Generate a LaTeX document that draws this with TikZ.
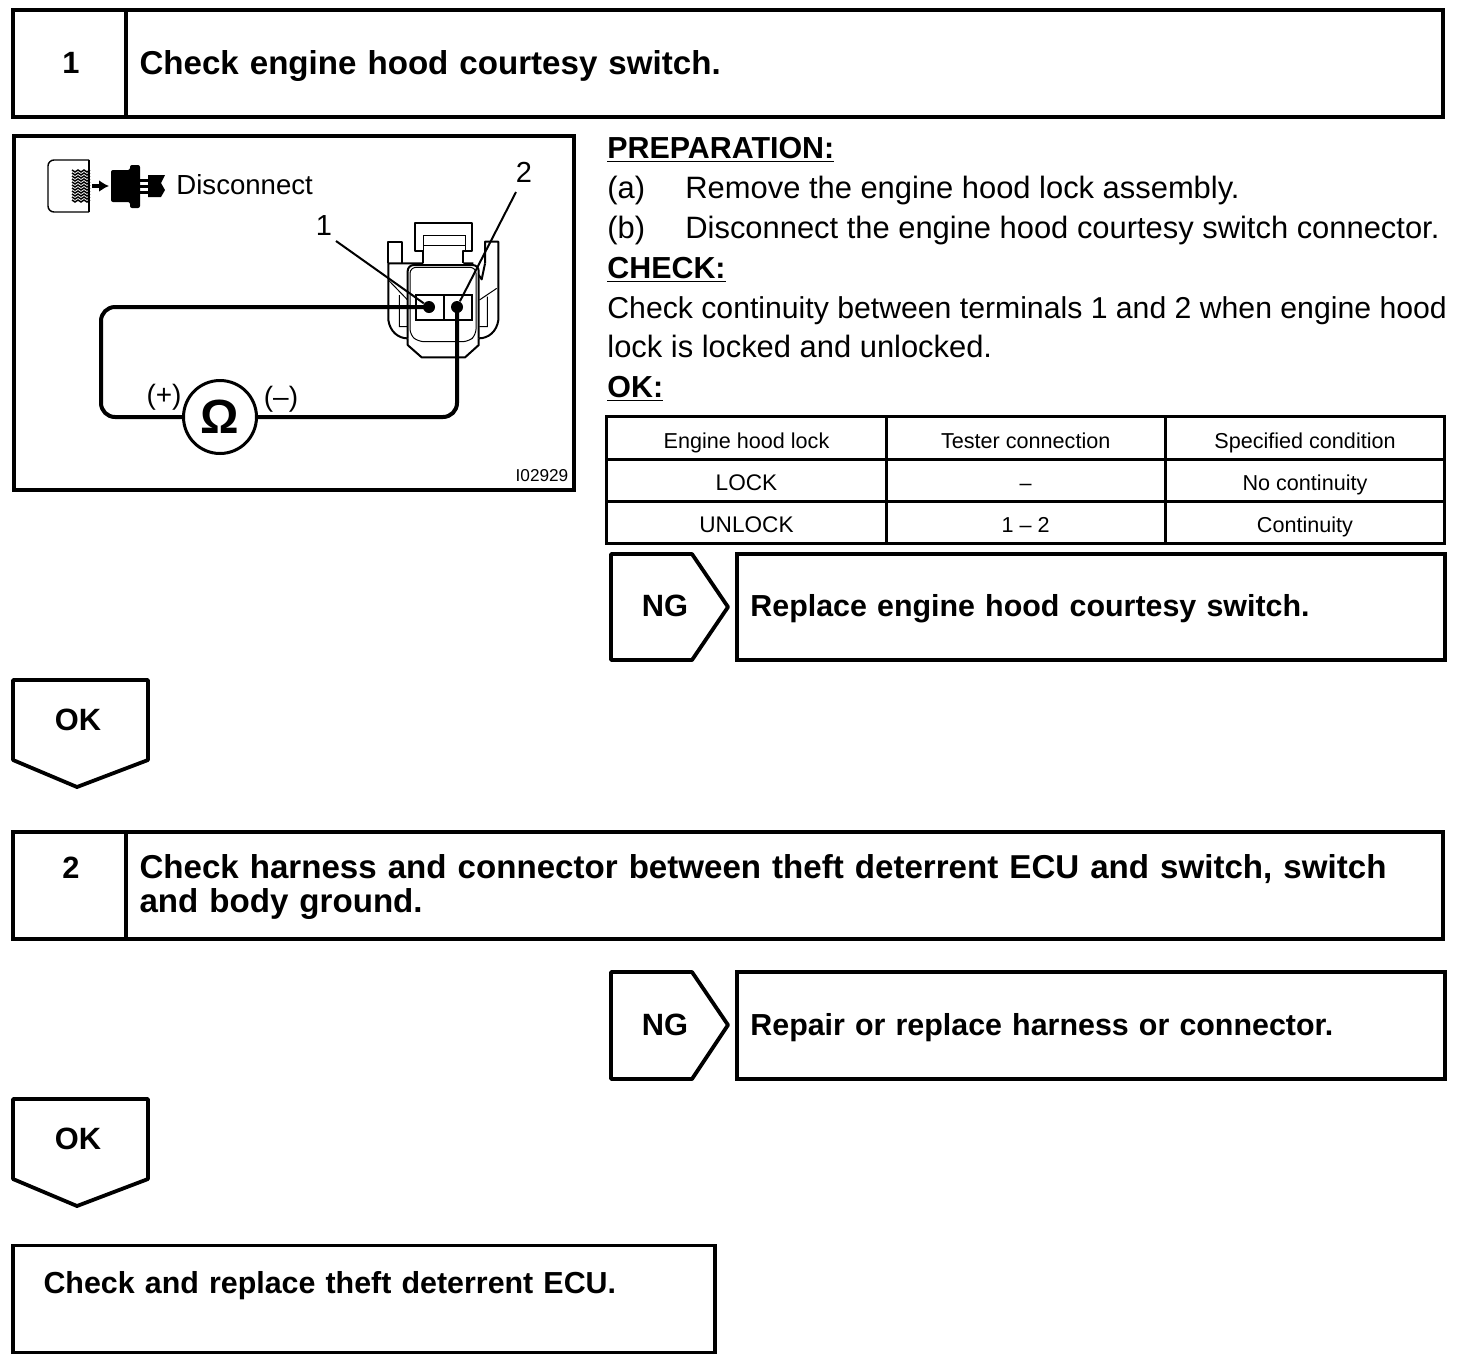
\documentclass[tikz,border=0pt]{standalone}
\usepackage{fontspec}
\setmainfont{Liberation Sans}
\newfontfamily\headfam[WordSpace=1.3]{Liberation Sans}
\usetikzlibrary{arrows.meta,positioning}

\begin{document}
\begin{tikzpicture}[
  x=0.5pt, y=-0.5pt,
  >=Latex,
  heavy/.style={line width=1.9pt, line join=round},
  wire/.style={line width=2pt, rounded corners=7pt},
  thinln/.style={line width=0.5pt},
  midln/.style={line width=1pt, line join=round},
  frame/.style={draw, line width=1.9pt, inner sep=0pt, minimum height=#1},
  headtxt/.style={font=\headfam\fontsize{16.55}{17}\selectfont\bfseries, align=left, text depth=1pt},
  fixtxt/.style={font=\headfam\fontsize{15.2}{17}\selectfont\bfseries, align=left, text depth=1.5pt},
  tagtxt/.style={inner sep=0pt, font=\fontsize{15.4}{17}\selectfont\bfseries},
  body/.style={anchor=base west, inner sep=0pt, font=\fontsize{15.45}{18}\selectfont},
  bodyb/.style={body, font=\fontsize{15.2}{18}\selectfont\bfseries},
  cell/.style={draw, line width=1.5pt, inner sep=0pt, minimum width=139.6pt, minimum height=21pt, text height=10.5pt, text depth=0pt, font=\fontsize{#1}{13}\selectfont},
  cell/.default=10.8,
  dot/.style={circle, fill=black, inner sep=0pt, minimum size=6pt}
]
\useasboundingbox (0,0) rectangle (1472,1366);

% step 1
\node[frame=53.5pt, minimum width=56.5pt] (numa) at (69.5,63.5) {};
\node[tagtxt] (numat) at (71,63) {1};
\node[frame=53.5pt, minimum width=658.5pt, text width=645pt, inner xsep=6.7pt, headtxt] (stepa) at (784.5,63.5) {Check engine hood courtesy switch.};

% illustration
\node[frame=177pt, minimum width=280pt] (illus) at (294,313) {};
\node[body, font=\fontsize{13.8}{17}\selectfont] (disc) at (176,194) {Disconnect};
\draw[line width=0.7pt, rounded corners=3pt] (89,160) -- (48,160) -- (48,212) -- (89,212);
\draw[line width=0.7pt] (89,160) -- (89,212);
\foreach \yy in {170,173,...,202} {
  \draw[line width=0.7pt] (72,\yy) -- ++(3,2) -- ++(3,-2) -- ++(3,2) -- ++(3,-2) -- ++(3,2) -- ++(3,-2);
}
\draw[-{Latex[length=5pt,width=6pt]}, line width=2pt] (92,186) -- (109,186);
\fill[rounded corners=1pt] (111,170) -- (130,170) -- (130,165) -- (140,165) -- (140,208) -- (130,208) -- (130,202) -- (111,202) -- cycle;
\fill (140,179) rectangle (148,182);
\fill (140,185) rectangle (148,188);
\fill (140,191) rectangle (148,194);
\fill (148,175) -- (165,175) -- (161,183) -- (165,190) -- (161,197) -- (148,197) -- cycle;

% connector
\begin{scope}[shift={(340,160)}, x=0.1667pt, y=-0.1667pt]
  \draw[midln] (250,310) -- (250,272) -- (225,272) -- (225,190) -- (395,190) -- (395,272) -- (370,272) -- (370,310);
  \draw[thinln] (250,272) -- (250,225) -- (375,225) -- (375,272) (250,255) -- (375,255);
  \draw[midln] (250,310) -- (145,310) -- (145,480) .. controls (150,515) and (175,535) .. (203,535);
  \draw[midln] (145,310) -- (145,245) -- (187,245) -- (187,310);
  \draw[midln] (370,310) -- (400,310) (435,310) -- (435,245) -- (475,245) -- (475,480) .. controls (470,515) and (445,535) .. (416,535);
  \draw[midln] (435,310) -- (425,358) -- (416,345);
  \draw[midln, rounded corners=3pt] (203,535) -- (203,315) -- (416,315) -- (416,535);
  \draw[thinln, rounded corners=3pt] (210,525) -- (210,322) -- (408,322) -- (408,525) -- (385,545) -- (235,545) -- cycle;
  \draw[midln] (203,535) -- (203,555) -- (245,592) -- (375,592) -- (416,555) -- (416,535);
  \draw[thinln] (145,360) -- (203,420) (178,405) -- (178,500) -- (203,500);
  \draw[thinln] (418,420) -- (470,385) (418,500) -- (442,500) -- (442,410);
  \draw[line width=1.2pt] (228,405) rectangle (395,480) (312,405) -- (312,480);
\end{scope}
\node[dot] (ptermb) at (429,307) {};
\node[dot] (ptermc) at (457,307) {};

% tester
\node[draw, circle, line width=1.5pt, minimum size=36.5pt, inner sep=0pt, font=\fontsize{24}{26}\selectfont\bfseries] (meter) at (220,417) {Ω};
\node[body, font=\fontsize{14}{16}\selectfont, anchor=center] (plus) at (164,397) {(+)};
\node[body, font=\fontsize{14}{16}\selectfont, anchor=center] (minus) at (281,399) {(–)};
\coordinate (wirea) at (101,307);
\coordinate (wireb) at (101,417);
\coordinate (wirec) at (457,417);
\draw[wire] (ptermb.center) -- (wirea) -- (wireb) -- (meter.west);
\draw[wire] (ptermc.center) -- (wirec) -- (meter.east);
\node[body, font=\fontsize{14.5}{16}\selectfont, anchor=center] (laba) at (324,226) {1};
\node[body, font=\fontsize{14.5}{16}\selectfont, anchor=center] (labb) at (524,172) {2};
\draw[line width=1pt] (laba) ++(12,15) coordinate (leada) -- (ptermb);
\draw[line width=1pt] (labb) ++(-8,20) coordinate (leadb) -- (ptermc);
\node[inner sep=0pt, font=\fontsize{8.6}{10}\selectfont] (code) at (542,476) {I02929};

% instructions
\node[bodyb] (prep) at (607,158) {\underline{PREPARATION:}};
\node[body] (ia) at (607,198) {(a)};
\node[body] (ta) at (685,198) {Remove the engine hood lock assembly.};
\node[body] (ib) at (607,238) {(b)};
\node[body] (tb) at (685,238) {Disconnect the engine hood courtesy switch connector.};
\node[bodyb] (chk) at (607,278) {\underline{CHECK:}};
\node[body, font=\fontsize{15.1}{18}\selectfont] (la) at (607,318) {Check continuity between terminals 1 and 2 when engine hood};
\node[body] (lb) at (607,357) {lock is locked and unlocked.};
\node[bodyb] (okh) at (607,397) {\underline{OK:}};

% table
\node[cell, minimum height=21.5pt] (ca) at (746.5,437.5) {Engine hood lock};
\node[cell, minimum height=21.5pt] (cb) at (1025.7,437.5) {Tester connection};
\node[cell, minimum height=21.5pt] (cc) at (1305,437.5) {Specified condition};
\node[cell=11.3] (da) at (746.5,480) {LOCK};
\node[cell] (db) at (1025.7,480) {–};
\node[cell] (dc) at (1305,480) {No continuity};
\node[cell=11.3] (ea) at (746.5,522) {UNLOCK};
\node[cell] (eb) at (1025.7,522) {1 – 2};
\node[cell] (ec) at (1305,522) {Continuity};

% result 1
\draw[heavy] (611,554) -- (692,554) -- (728,607) -- (692,660) -- (611,660) -- cycle;
\node[tagtxt] (nga) at (665,606) {NG};
\node[frame=53pt, minimum width=354pt, text width=340.6pt, inner xsep=6.7pt, fixtxt] (fixa) at (1091,607) {Replace engine hood courtesy switch.};
\draw[heavy] (13,680) -- (148,680) -- (148,760) -- (77,787) -- (13,760) -- cycle;
\node[tagtxt] (oka) at (78,720) {OK};

% step 2
\node[frame=53.5pt, minimum width=56.5pt] (numb) at (69.5,885.5) {};
\node[tagtxt] (numbt) at (71,868) {2};
\node[frame=53.5pt, minimum width=658.5pt, text width=645pt, inner xsep=6.7pt, headtxt, text depth=19pt] (stepb) at (784.5,885.5) {Check harness and connector between theft deterrent ECU and switch, switch\\and body ground.};

% result 2
\draw[heavy] (611,972) -- (692,972) -- (728,1025) -- (692,1079) -- (611,1079) -- cycle;
\node[tagtxt] (ngb) at (665,1025) {NG};
\node[frame=53.5pt, minimum width=354pt, text width=340.6pt, inner xsep=6.7pt, fixtxt] (fixb) at (1091,1025.5) {Repair or replace harness or connector.};
\draw[heavy] (13,1099) -- (148,1099) -- (148,1179) -- (77,1206) -- (13,1179) -- cycle;
\node[tagtxt] (okb) at (78,1139) {OK};

% final
\node[frame=53.5pt, minimum width=351pt, text width=320.5pt, inner xsep=15pt, fixtxt, text depth=17pt] (last) at (364,1299) {Check and replace theft deterrent ECU.};
\end{tikzpicture}
\end{document}
